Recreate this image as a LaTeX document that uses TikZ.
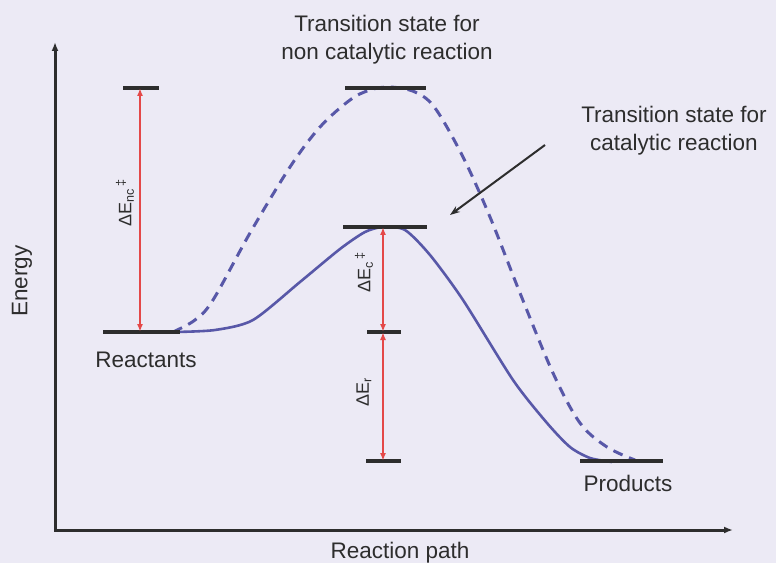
\documentclass[tikz,border=0pt]{standalone}
\usepackage{fontspec}
\setmainfont{Liberation Sans}
\usetikzlibrary{arrows.meta}

\definecolor{pagebg}{RGB}{236,234,245}
\definecolor{inkgrey}{RGB}{45,45,45}
\definecolor{curveblue}{RGB}{88,88,168}
\definecolor{gapred}{RGB}{228,72,72}

\begin{document}
\begin{tikzpicture}[x=1pt, y=1pt,
  axis/.style={draw=inkgrey, line width=3pt, {Latex[length=9pt,width=7pt]}-{Latex[length=9pt,width=7pt]}},
  level/.style={draw=inkgrey, line width=3.2pt},
  gap/.style={draw=gapred, line width=2pt, {Latex[length=8pt,width=6pt]}-{Latex[length=8pt,width=6pt]}},
  catcurve/.style={draw=curveblue, line width=2.6pt},
  nccurve/.style={draw=curveblue, line width=3pt, dash pattern=on 10pt off 7pt},
  pointer/.style={draw=inkgrey, line width=2pt, -{Stealth[length=10pt,width=7pt]}},
  lbl/.style={font=\fontsize{22.5}{28}\selectfont, text=inkgrey, align=center},
  dlbl/.style={font=\fontsize{18}{20}\selectfont, text=inkgrey, rotate=90}]

  % === 背景与边界 ===
  \fill[pagebg] (0,0) rectangle (776,563);
  \useasboundingbox (0,0) rectangle (776,563);

  % === 坐标轴 ===
  \coordinate (origin) at (55,33);
  \coordinate (ytop) at (55,521);
  \coordinate (xend) at (733,33);
  \draw[axis] (ytop) -- (origin) -- (xend);

  \node[lbl, rotate=90] (ylab) at (22,282) {Energy};
  \node[lbl] (xlab) at (400,10) {Reaction path};

  % === 能量曲线（实线：催化；虚线：非催化）===
  \draw[catcurve] plot[smooth, tension=0.45] coordinates {
    (175,231) (215,233) (253,243) (300,281) (340,314) (365,331) (383,336)
    (405,333) (430,308) (463,263) (513,183) (547,140) (570,116) (590,105) (612,101)};
  \draw[nccurve] plot[smooth, tension=0.55] coordinates {
    (173,231) (195,243) (213,263) (250,330) (290,396) (320,436) (350,463)
    (370,473) (390,476) (415,471) (435,455) (463,406) (490,346) (520,270)
    (553,190) (580,140) (607,116) (635,103)};

  % === 能级横线 ===
  \coordinate (reac L) at (103,231);  \coordinate (reac R) at (180,231);
  \coordinate (ncref L) at (123,475); \coordinate (ncref R) at (159,475);
  \coordinate (ncts L) at (345,475);  \coordinate (ncts R) at (426,475);
  \coordinate (cts L) at (343,336);   \coordinate (cts R) at (427,336);
  \coordinate (mid L) at (367,231);   \coordinate (mid R) at (401,231);
  \coordinate (low L) at (366,102);   \coordinate (low R) at (401,102);
  \coordinate (prod L) at (580,102);  \coordinate (prod R) at (663,102);
  \foreach \lv in {reac, ncref, ncts, cts, mid, low, prod} {
    \draw[level] (\lv\space L) -- (\lv\space R);
  }

  % === 能垒箭头 ===
  \coordinate (ncgap top) at (140,475);
  \coordinate (ncgap bot) at (140,231);
  \coordinate (cgap top) at (383,336);
  \coordinate (cgap mid) at (383,231);
  \coordinate (cgap bot) at (383,102);
  \draw[gap] (ncgap top) -- (ncgap bot);
  \draw[gap] (cgap top) -- (cgap mid);
  \draw[gap] (cgap mid) -- (cgap bot);

  \node[dlbl] (dEnc) at (125,360) {ΔE\textsubscript{nc}\textsuperscript{\,‡}};
  \node[dlbl] (dEc) at (364,291) {ΔE\textsubscript{c}\textsuperscript{\,‡}};
  \node[dlbl] (dEr) at (364,171) {ΔE\textsubscript{r}};

  % === 文字标注 ===
  \node[lbl] (reac) at (146,203) {Reactants};
  \node[lbl] (prod) at (628,80) {Products};
  \node[lbl] (ts nc) at (387,523) {Transition state for\\non catalytic reaction};
  \node[lbl] (ts cat) at (674,432) {Transition state for\\catalytic reaction};

  % 指向催化过渡态的引线
  \coordinate (ptr start) at (545,418);
  \coordinate (ptr end) at (450,348);
  \draw[pointer] (ptr start) -- (ptr end);
\end{tikzpicture}
\end{document}
